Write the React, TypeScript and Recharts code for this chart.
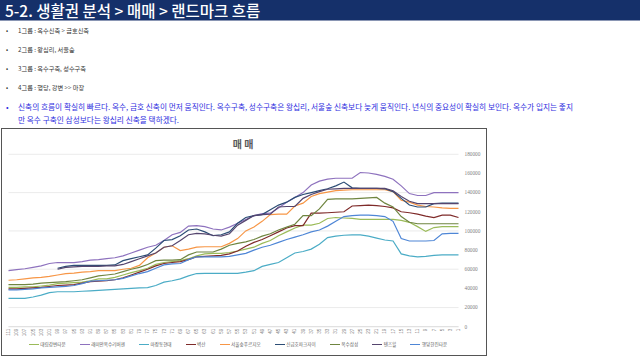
import React from 'react';
import { LineChart, Line, XAxis, YAxis, CartesianGrid, Legend } from 'recharts';

const weeks = [
  '111', '109', '107', '105', '103', '101', '99', '97', '95', '93',
  '91', '89', '87', '85', '83', '81', '79', '77', '75', '73',
  '71', '69', '67', '65', '63', '61', '59', '57', '55', '53',
  '51', '49', '47', '45', '43', '41', '39', '37', '35', '33',
  '31', '29', '27', '25', '23', '21', '19', '17', '15', '13',
  '11', '9', '7', '5', '3', '1',
];

const daerim = [
  41000, 41000, 41500, 41500, 42500, 43500, 45000, 45500, 46000, 46500,
  48000, 50000, 50000, 51500, 54000, 56500, 58500, 61000, 65000, 67000,
  68000, 69000, 71000, 74000, 76000, 76500, 76500, 77500, 79000, 81000,
  83000, 87000, 90000, 95000, 99000, 103000, 106000, 106000, 108000, 113000,
  114000, 113500, 113000, 112000, 112000, 112000, 112000, 112000, 111000, 109000,
  104500, 99500, 103500, 104500, 104500, 104500,
];
const raemian = [
  58500, 59500, 60500, 62000, 63500, 66000, 67000, 67000, 67000, 68000,
  69500, 70000, 71000, 72000, 74000, 77000, 80000, 83000, 85000, 90000,
  96000, 98500, 105000, 105500, 104500, 102000, 101000, 104000, 108000, 112000,
  116000, 118000, 118500, 124000, 130000, 135000, 140000, 148000, 152000, 154000,
  155000, 155000, 155000, 161000, 160500, 159000, 157000, 154000, 147000, 139000,
  137000, 137000, 140000, 140000, 140000, 140000,
];
const majang = [
  29500, 29500, 29500, 31000, 33000, 35500, 36500, 36500, 36500, 37000,
  37500, 38000, 38500, 39000, 39500, 40000, 40500, 40800, 43000, 46500,
  48000, 50000, 53000, 55500, 55700, 55700, 55700, 55700, 55700, 57000,
  58500, 63000, 65000, 67000, 72000, 77000, 78500, 81000, 86000, 93000,
  94500, 95500, 95800, 95800, 94500, 92500, 90500, 89500, 76000, 74000,
  73000, 73500, 74500, 75000, 75000, 75000,
];
const prugio = [
  48500, 49000, 50000, 51000, 51500, 52500, 54000, 55500, 56000, 57000,
  57500, 58500, 58500, 58500, 60000, 61000, 64000, 72000, 77000, 83000,
  84500, 79500, 81000, 83000, 83500, 83500, 83500, 87000, 92000, 100000,
  104000, 110000, 117000, 117500, 117500, 126000, 129000, 136000, 139000, 140500,
  142000, 142500, 143000, 143000, 143000, 143000, 143000, 141000, 132000, 130000,
  127000, 125500, 125000, 124000, 123500, 123500,
];
const parkXi = [
  null, null, null, null, null, null, 61000, 63000, 64000, 64000,
  64000, 64000, 64000, 64500, 69000, 71000, 73000, 75000, 82000, 90000,
  91000, 95000, 101000, 102000, 99000, 95000, 96000, 99000, 108000, 114000,
  116000, 117000, 122000, 127000, 130000, 135000, 138000, 140000, 142000, 144000,
  147000, 151000, 145000, 144500, 144500, 144500, 144000, 141000, 134000, 127000,
  125000, 125000, 128500, 129000, 129000, 129000,
];
const byeoksan = [
  39500, 39500, 40000, 40500, 41000, 42000, 43000, 43500, 44000, 45500,
  47000, 47500, 48000, 49000, 51000, 54000, 57000, 60000, 63500, 66000,
  67000, 68000, 70000, 73000, 73500, 74000, 74500, 76000, 79000, 84000,
  88000, 91000, 95000, 99000, 103000, 105500, 105500, 118500, 118500, 119000,
  119500, 120000, 126000, 126500, 127000, 126500, 125500, 124000, 120000, 119000,
  117500, 115500, 114000, 116500, 116500, 114000,
];
const oksuSamsung = [
  44000, 44000, 44000, 44500, 45500, 46000, 46500, 47000, 48000, 49000,
  51000, 53000, 54000, 55000, 57500, 60000, 62000, 65000, 69000, 69500,
  69500, 70000, 75000, 78000, 78000, 78000, 81000, 85000, 87000, 88500,
  91000, 94500, 97000, 101000, 104000, 107000, 116000, 116000, 123000, 133000,
  133500, 133500, 133500, 134000, 134500, 135000, 129000, 125000, 115000, 109000,
  107500, 107500, 107500, 107500, 107500, 107500,
];
const tensHill = [
  null, null, null, null, null, null, 60000, 62000, 62500, 63000,
  63000, 63000, 63500, 63500, 65000, 68000, 71000, 74000, 77000, 83000,
  84500, 90000, 96000, 97500, 97000, 95500, 94500, 97000, 106000, 111000,
  116000, 117000, 117500, 125000, 125500, 125500, 134000, 138000, 141000, 143500,
  144000, 144500, 144500, 144500, 144500, 144500, 144500, 142000, 136000, 131000,
  128500, 128500, 128500, 128500, 128500, 128500,
];
const hanjin = [
  38500, 38500, 39000, 39500, 40500, 41000, 41500, 42000, 43000, 45000,
  47500, 48000, 48500, 49000, 50500, 53000, 55500, 57500, 61000, 64500,
  65500, 66000, 70000, 73000, 73000, 73000, 73000, 73500, 75000, 76500,
  80000, 83000, 85000, 88000, 91000, 93500, 96000, 99000, 101000, 105000,
  110000, 115000, 116000, 116500, 116500, 116000, 115000, 110000, 92000, 89500,
  89500, 89500, 90000, 97000, 97500, 97500,
];

const yTicks = [0, 20000, 40000, 60000, 80000, 100000, 120000, 140000, 160000, 180000];

const series = [
  { key: 'daerim', name: '대림강변타운', color: '#9BBB59', values: daerim },
  { key: 'raemian', name: '래미안옥수리버젠', color: '#8E72BE', values: raemian },
  { key: 'majang', name: '마장동현대', color: '#4BACC6', values: majang },
  { key: 'prugio', name: '서울숲푸르지오', color: '#F79646', values: prugio },
  { key: 'parkXi', name: '신금호파크자이', color: '#2C4D75', values: parkXi },
  { key: 'byeoksan', name: '벽산', color: '#7F2B2A', values: byeoksan },
  { key: 'oksuSamsung', name: '옥수삼성', color: '#6F8540', values: oksuSamsung },
  { key: 'tensHill', name: '텐즈힐', color: '#55456E', values: tensHill },
  { key: 'hanjin', name: '행당한진타운', color: '#4E86D6', values: hanjin },
];

const rows = weeks.map((week, i) => {
  const row: Record<string, string | number | null> = { week };
  series.forEach((s) => {
    row[s.key] = s.values[i];
  });
  return row;
});

const bullets = [
  '1그룹 : 옥수신축 > 금호신축',
  '2그룹 : 왕십리, 서울숲',
  '3그룹 : 옥수구축, 성수구축',
  '4그룹 : 행당, 강변 >> 마장',
];

const noteLines = [
  '신축의 흐름이 확실히 빠르다. 옥수, 금호 신축이 먼저 움직인다. 옥수구축, 성수구축은 왕십리, 서울숲 신축보다 늦게 움직인다. 년식의 중요성이 확실히 보인다. 옥수가 입지는 좋지',
  '만 옥수 구축인 삼성보다는 왕십리 신축을 택하겠다.',
];

const FONT = '"Noto Sans CJK KR", "Noto Sans", sans-serif';

function WeekTick({ x, y, payload }: any) {
  return (
    <g transform={`translate(${x},${y})`}>
      <text
        transform="rotate(-90)"
        x={-1}
        y={0}
        dy="0.35em"
        textAnchor="end"
        fontSize={4.6}
        fill="#7f7f7f"
        fontFamily="Liberation Sans"
      >
        {payload.value}
      </text>
    </g>
  );
}

function LegendRow({ payload }: any) {
  return (
    <div
      style={{
        display: 'flex',
        justifyContent: 'center',
        alignItems: 'center',
        height: 14,
        fontSize: 4.6,
        color: '#595959',
        fontFamily: FONT,
      }}
    >
      {(payload || []).map((e: any) => (
        <div key={e.value} style={{ display: 'flex', alignItems: 'center', marginRight: 14 }}>
          <span style={{ width: 10, borderTop: `1.2px solid ${e.color}`, marginRight: 1.5 }} />
          <span>{e.value}</span>
        </div>
      ))}
    </div>
  );
}

export default function App() {
  return (
    <div style={{ position: 'absolute', left: 0, top: 0, width: 640, height: 360, background: '#fff', overflow: 'hidden', fontFamily: FONT }}>
      <div style={{ position: 'absolute', left: 0, top: 0, width: 640, height: 20, background: '#15306A' }} />
      <div style={{ position: 'absolute', left: 0, top: 20, width: 640, height: 1, background: '#8a96b4' }} />
      <div style={{ position: 'absolute', left: 5, top: 0, height: 20, lineHeight: '20px', color: '#fff', fontSize: 15.5, fontWeight: 500, whiteSpace: 'nowrap' }}>
        5-2. 생활권 분석 &gt; 매매 &gt; 랜드마크 흐름
      </div>

      {bullets.map((b, i) => (
        <div key={b} style={{ position: 'absolute', left: 6, top: 25 + i * 19, height: 11, lineHeight: '11px', fontSize: 6.2, color: '#333', whiteSpace: 'nowrap' }}>
          <span style={{ display: 'inline-block', width: 12 }}>•</span>
          {b}
        </div>
      ))}

      {noteLines.map((t, i) => (
        <div key={i} style={{ position: 'absolute', left: 6, top: 100 + i * 13, height: 13, lineHeight: '13px', fontSize: 7.7, color: '#2F2FE0', whiteSpace: 'nowrap' }}>
          <span style={{ display: 'inline-block', width: 12 }}>{i === 0 ? '•' : ''}</span>
          {t}
        </div>
      ))}

      <div style={{ position: 'absolute', left: 1, top: 127.5, width: 486, height: 228, border: '1.5px solid #555', boxSizing: 'border-box', background: '#fff' }}>
        <div style={{ position: 'absolute', left: 0, top: 7, width: 482, textAlign: 'center', fontSize: 10, fontWeight: 700, color: '#595959' }}>
          매 매
        </div>
        <LineChart width={482} height={225} data={rows} margin={{ top: 25.3, right: 2.5, left: 6.5, bottom: 2.3 }}>
          <CartesianGrid vertical={false} stroke="#e6e6e6" strokeWidth={0.8} />
          <XAxis
            dataKey="week"
            interval={0}
            tick={<WeekTick />}
            tickLine={false}
            tickSize={0}
            tickMargin={1}
            axisLine={{ stroke: '#d9d9d9', strokeWidth: 0.8 }}
            height={11}
          />
          <YAxis
            orientation="right"
            domain={[0, 180000]}
            ticks={yTicks}
            width={23}
            axisLine={false}
            tickLine={false}
            tickMargin={0}
            tick={{ fontSize: 5.3, fill: '#7f7f7f', fontFamily: 'Liberation Serif' }}
          />
          <Legend verticalAlign="bottom" height={14} content={<LegendRow />} />
          {series.map((s) => (
            <Line
              key={s.key}
              type="linear"
              dataKey={s.key}
              name={s.name}
              stroke={s.color}
              strokeWidth={1.2}
              dot={false}
              isAnimationActive={false}
            />
          ))}
        </LineChart>
      </div>
    </div>
  );
}
